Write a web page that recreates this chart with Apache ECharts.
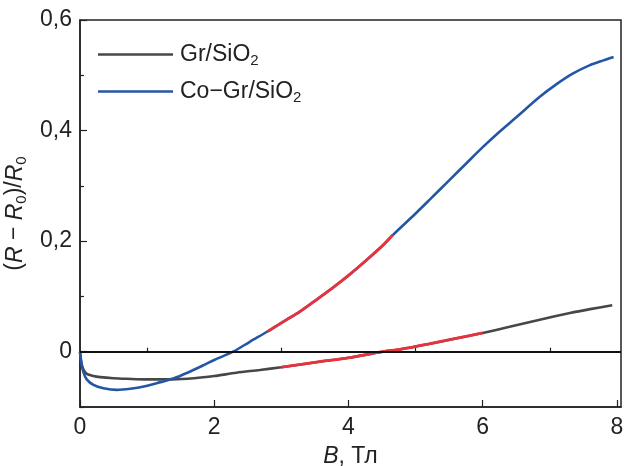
<!DOCTYPE html>
<html>
<head>
<meta charset="utf-8">
<script src="https://cdn.jsdelivr.net/npm/echarts@6/dist/echarts.min.js"></script>
<style>html,body{margin:0;padding:0;background:#fff}#c{width:624px;height:466px}</style>
</head>
<body>
<div id="c"></div>
<script>
// ---- data ----
const grayB = [0, 0.02, 0.05, 0.1, 0.2, 0.3, 0.5, 0.7, 1.0, 1.38, 1.7, 2.0, 2.33, 2.68, 3.0, 3.57, 4.0, 4.51, 4.76, 5.2, 5.6, 6.0, 6.4, 6.85, 7.3, 7.6, 7.93];
const grayR = [0, -0.02, -0.032, -0.04, -0.044, -0.046, -0.048, -0.049, -0.05, -0.05, -0.048, -0.044, -0.038, -0.033, -0.028, -0.018, -0.011, 0, 0.004, 0.014, 0.024, 0.034, 0.045, 0.058, 0.07, 0.077, 0.084];
const blueB = [0, 0.02, 0.05, 0.1, 0.2, 0.35, 0.55, 0.75, 0.95, 1.2, 1.4, 1.6, 1.83, 2.0, 2.28, 2.53, 2.8, 3.08, 3.27, 3.5, 3.77, 4.0, 4.27, 4.5, 4.66, 5.0, 5.21, 5.5, 5.75, 6.0, 6.25, 6.5, 6.85, 7.1, 7.34, 7.59, 7.8, 7.95];
const blueR = [0, -0.02, -0.037, -0.05, -0.06, -0.066, -0.069, -0.067, -0.063, -0.055, -0.048, -0.038, -0.025, -0.015, 0, 0.018, 0.037, 0.058, 0.072, 0.092, 0.116, 0.138, 0.166, 0.191, 0.211, 0.25, 0.275, 0.31, 0.34, 0.37, 0.398, 0.424, 0.461, 0.484, 0.503, 0.518, 0.527, 0.533];
const blueRedRange = [2.8, 4.66];
const grayRedRange = [3.0, 6.0];
const seriesNames = ['Gr/SiO2', 'Co\u2212Gr/SiO2'];
const xMajorTicks = [0, 2, 4, 6, 8];
const xMinorTicks = [1, 3, 5, 7];
const yMajorTicks = [0, 0.2, 0.4, 0.6];
const yMinorTicks = [-0.1, 0.1, 0.3, 0.5];

const pairs = (xs, ys) => xs.map((x, i) => [x, ys[i]]);
const inRange = (pts, r) => pts.filter(p => p[0] >= r[0] - 1e-9 && p[0] <= r[1] + 1e-9);
const grayPts = pairs(grayB, grayR);
const bluePts = pairs(blueB, blueR);

const FONT = 'Liberation Sans';
const FS = 23;
const subStyle = {fontSize: 15, lineHeight: 12, verticalAlign: 'bottom', fontFamily: FONT, color: '#222'};
const itStyle = {fontSize: FS, lineHeight: 28, fontStyle: 'italic', fontFamily: FONT, color: '#222'};

const chart = echarts.init(document.getElementById('c'), null, {renderer: 'canvas'});
const lineCommon = {type: 'line', showSymbol: false, symbol: 'none', smooth: 0.3, silent: true, animation: false};

chart.setOption({
  animation: false,
  backgroundColor: '#fff',
  grid: {left: 80, right: 3, top: 20, bottom: 59, containLabel: false, outerBoundsMode: 'none',
    show: true, borderColor: '#222', borderWidth: 1.5, backgroundColor: 'transparent'},
  legend: {
    orient: 'vertical', left: 93, top: 36, itemWidth: 75, itemHeight: 2.5, itemGap: 10,
    icon: 'rect',
    data: seriesNames,
    formatter: n => n.replace('SiO2', 'SiO{sub|2}'),
    textStyle: {fontSize: FS, lineHeight: 27, fontFamily: FONT, color: '#222', padding: [0, 0, 0, 2], rich: {sub: subStyle}}
  },
  xAxis: [{
    type: 'value', min: 0, max: 8.06,
    name: '{i|B}, Тл', nameLocation: 'middle', nameGap: 32,
    nameTextStyle: {fontSize: FS, lineHeight: 26, fontFamily: FONT, color: '#222', rich: {i: Object.assign({}, itStyle, {lineHeight: 26})}},
    axisLine: {show: true, onZero: false, lineStyle: {color: '#222', width: 1.5}},
    axisTick: {show: true, inside: true, length: 7, customValues: xMajorTicks, lineStyle: {color: '#222', width: 1.2}},
    axisLabel: {customValues: xMajorTicks, fontSize: FS, fontFamily: FONT, color: '#222', margin: 9},
    splitLine: {show: false}
  }, {
    type: 'value', min: 0, max: 8.06, position: 'bottom',
    axisLine: {show: false},
    axisTick: {show: true, inside: true, length: 4, customValues: xMinorTicks, lineStyle: {color: '#222', width: 1.2}},
    axisLabel: {show: false},
    splitLine: {show: false}
  }],
  yAxis: [{
    type: 'value', min: -0.1, max: 0.6,
    name: '({i|R} \u2212 {i|R}{sub|0})/{i|R}{sub|0}', nameLocation: 'middle', nameGap: 44, nameRotate: 90,
    nameTextStyle: {fontSize: FS, lineHeight: 28, fontFamily: FONT, color: '#222', rich: {i: itStyle, sub: subStyle}},
    axisLine: {show: true, onZero: false, lineStyle: {color: '#222', width: 1.5}},
    axisTick: {show: true, inside: true, length: 7, customValues: yMajorTicks, lineStyle: {color: '#222', width: 1.2}},
    axisLabel: {customValues: yMajorTicks, fontSize: FS, fontFamily: FONT, color: '#222', margin: 8,
      formatter: v => (Math.abs(v) < 1e-9 ? '0' : v.toFixed(1).replace('.', ','))},
    splitLine: {show: false}
  }, {
    type: 'value', min: -0.1, max: 0.6, position: 'left',
    axisLine: {show: false},
    axisTick: {show: true, inside: true, length: 4, customValues: yMinorTicks, lineStyle: {color: '#222', width: 1.2}},
    axisLabel: {show: false},
    splitLine: {show: false}
  }],
  series: [
    {type: 'line', name: '_zero', data: [], silent: true,
      markLine: {silent: true, symbol: 'none', animation: false, label: {show: false},
        lineStyle: {color: '#111', width: 1.8, type: 'solid'}, data: [{yAxis: 0}]}},
    Object.assign({}, lineCommon, {name: seriesNames[0], data: grayPts, color: '#474747', lineStyle: {color: '#474747', width: 2.6}}),
    Object.assign({}, lineCommon, {name: seriesNames[1], data: bluePts, color: '#2456a6', lineStyle: {color: '#2456a6', width: 2.6}}),
    Object.assign({}, lineCommon, {name: '_redGray', data: inRange(grayPts, grayRedRange), lineStyle: {color: '#e8333c', width: 2.8}}),
    Object.assign({}, lineCommon, {name: '_redBlue', data: inRange(bluePts, blueRedRange), lineStyle: {color: '#e8333c', width: 2.8}})
  ]
});
</script>
</body>
</html>
